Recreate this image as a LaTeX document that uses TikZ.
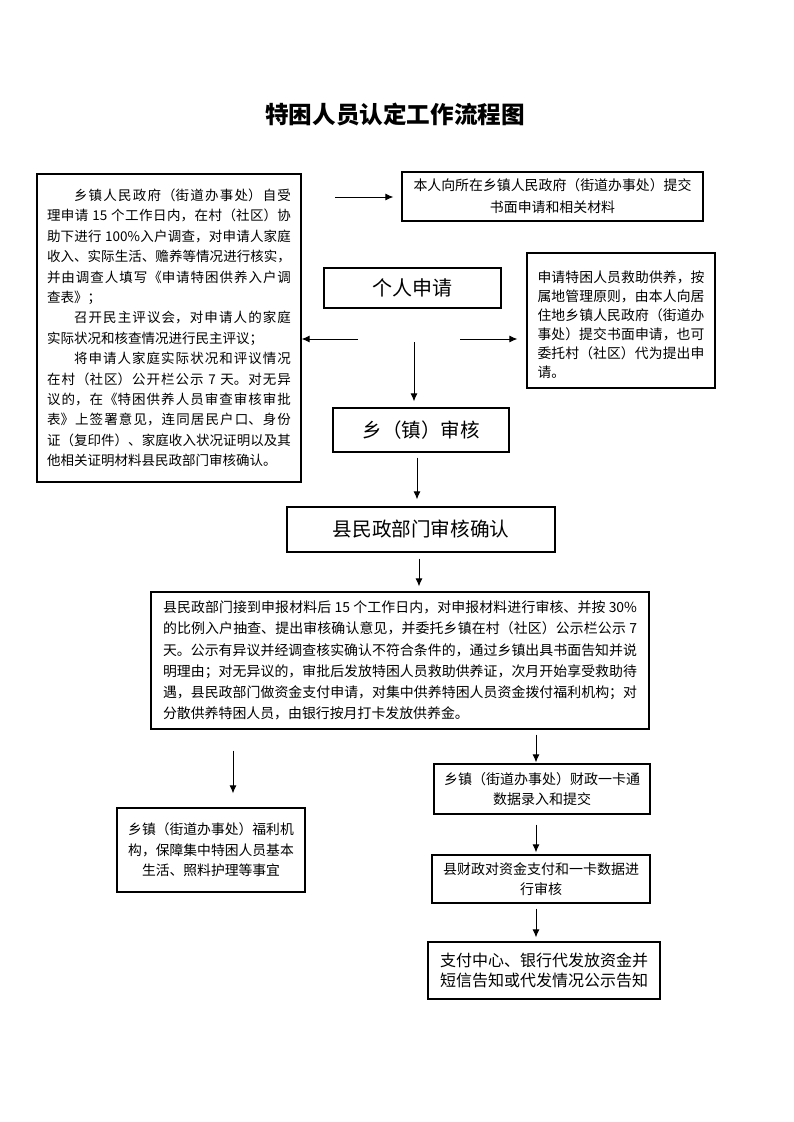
\documentclass[tikz,border=0pt]{standalone}
\usepackage{fontspec}
\setmainfont{Noto Sans CJK SC}
\usetikzlibrary{arrows.meta}
\XeTeXlinebreaklocale "zh"
\XeTeXlinebreakskip=0pt plus 1pt
\setlength{\parindent}{0pt}
\begin{document}
\begin{tikzpicture}[x=1pt,y=-1pt,
  box/.style={draw, line width=1.2pt, inner sep=0pt},
  arr/.style={-{Latex[length=8pt,width=7pt]}, line width=1pt}]
\useasboundingbox[fill=white] (0,0) rectangle (793,1122);

\node[font=\bfseries\fontsize{23.6pt}{28pt}\selectfont] (title) at (395,115) {特困人员认定工作流程图};

% left big box
\node[box, minimum width=264pt, minimum height=308pt, text width=244pt, align=justify,
      font=\fontsize{13.5pt}{20.4pt}\selectfont] (L) at (169,328) {%
\hspace*{2em}乡镇人民政府（街道办事处）自受\linebreak
理申请 15 个工作日内，在村（社区）协\linebreak
助下进行 100\%入户调查，对申请人家庭\linebreak
收入、实际生活、赡养等情况进行核实，\linebreak
并由调查人填写《申请特困供养入户调\linebreak
查表》；\par
\hspace*{2em}召开民主评议会，对申请人的家庭\linebreak
实际状况和核查情况进行民主评议；\par
\hspace*{2em}将申请人家庭实际状况和评议情况\linebreak
在村（社区）公开栏公示 7 天。对无异\linebreak
议的，在《特困供养人员审查审核审批\linebreak
表》上签署意见，连同居民户口、身份\linebreak
证（复印件）、家庭收入状况证明以及其\linebreak
他相关证明材料县民政部门审核确认。};

% top right box
\node[box, minimum width=301pt, minimum height=49pt, align=center,
      font=\fontsize{13.9pt}{22pt}\selectfont] (TR) at (552.5,196.5)
  {本人向所在乡镇人民政府（街道办事处）提交\\书面申请和相关材料};

% personal application
\node[box, minimum width=177pt, minimum height=40pt, font=\fontsize{20pt}{24pt}\selectfont]
  (P) at (412.5,288) {个人申请};

% right box
\node[box, minimum width=188pt, minimum height=135pt, text width=167pt, align=justify,
      font=\fontsize{13.8pt}{19pt}\selectfont] (R) at (621,320.5) {%
\rule{0pt}{20pt}申请特困人员救助供养，按\linebreak
属地管理原则，由本人向居\linebreak
住地乡镇人民政府（街道办\linebreak
事处）提交书面申请，也可\linebreak
委托村（社区）代为提出申\linebreak
请。};

% township review
\node[box, minimum width=176pt, minimum height=44pt, font=\fontsize{19.5pt}{24pt}\selectfont]
  (X) at (421,430) {乡（镇）审核};

% county confirmation
\node[box, minimum width=268pt, minimum height=45pt, font=\fontsize{19.6pt}{24pt}\selectfont]
  (C) at (421,529.5) {县民政部门审核确认};

% big middle box
\node[box, minimum width=498pt, minimum height=137pt, text width=474pt, align=justify,
      font=\fontsize{13.9pt}{21.2pt}\selectfont] (B) at (400,660.5) {%
县民政部门接到申报材料后 15 个工作日内，对申报材料进行审核、并按 30\%\linebreak
的比例入户抽查、提出审核确认意见，并委托乡镇在村（社区）公示栏公示 7\linebreak
天。公示有异议并经调查核实确认不符合条件的，通过乡镇出具书面告知并说\linebreak
明理由；对无异议的，审批后发放特困人员救助供养证，次月开始享受救助待\linebreak
遇，县民政部门做资金支付申请，对集中供养特困人员资金拨付福利机构；对\linebreak
分散供养特困人员，由银行按月打卡发放供养金。};

% bottom left box
\node[box, minimum width=188pt, minimum height=84pt, align=center,
      font=\fontsize{13.8pt}{20.5pt}\selectfont] (BL) at (211,850)
  {乡镇（街道办事处）福利机\\构，保障集中特困人员基本\\生活、照料护理等事宜};

% bottom right chain
\node[box, minimum width=216pt, minimum height=50pt, align=center,
      font=\fontsize{14pt}{20pt}\selectfont] (R1) at (542,789)
  {乡镇（街道办事处）财政一卡通\\数据录入和提交};
\node[box, minimum width=218pt, minimum height=48pt, align=center,
      font=\fontsize{14pt}{20pt}\selectfont] (R2) at (541,879)
  {县财政对资金支付和一卡数据进\\行审核};
\node[box, minimum width=232pt, minimum height=57pt, align=center,
      font=\fontsize{16pt}{20pt}\selectfont] (R3) at (544,970.5)
  {支付中心、银行代发放资金并\\短信告知或代发情况公示告知};

% arrows
\coordinate (a1) at (335,197);
\draw[arr, shorten >=8pt] (a1) -- (a1 -| TR.west);
\coordinate (a2) at (358,339);
\draw[arr] (a2) -- (a2 -| L.east);
\coordinate (a3) at (460,339);
\draw[arr, shorten >=9pt] (a3) -- (a3 -| R.west);
\coordinate (a4) at (414,342);
\draw[arr, shorten >=6pt] (a4) -- (a4 |- X.north);
\coordinate (a5) at (417,0);
\draw[arr, shorten <=5pt, shorten >=7pt] (a5 |- X.south) -- (a5 |- C.north);
\coordinate (a6) at (419,0);
\draw[arr, shorten <=6pt, shorten >=5pt] (a6 |- C.south) -- (a6 |- B.north);
\coordinate (a7) at (233,0);
\draw[arr, shorten <=21pt, shorten >=14pt] (a7 |- B.south) -- (a7 |- BL.north);
\coordinate (a8) at (536,0);
\draw[arr, shorten <=5pt, shorten >=1pt] (a8 |- B.south) -- (a8 |- R1.north);
\draw[arr, shorten <=10pt, shorten >=2pt] (a8 |- R1.south) -- (a8 |- R2.north);
\draw[arr, shorten <=5pt, shorten >=4pt] (a8 |- R2.south) -- (a8 |- R3.north);
\end{tikzpicture}
\end{document}
